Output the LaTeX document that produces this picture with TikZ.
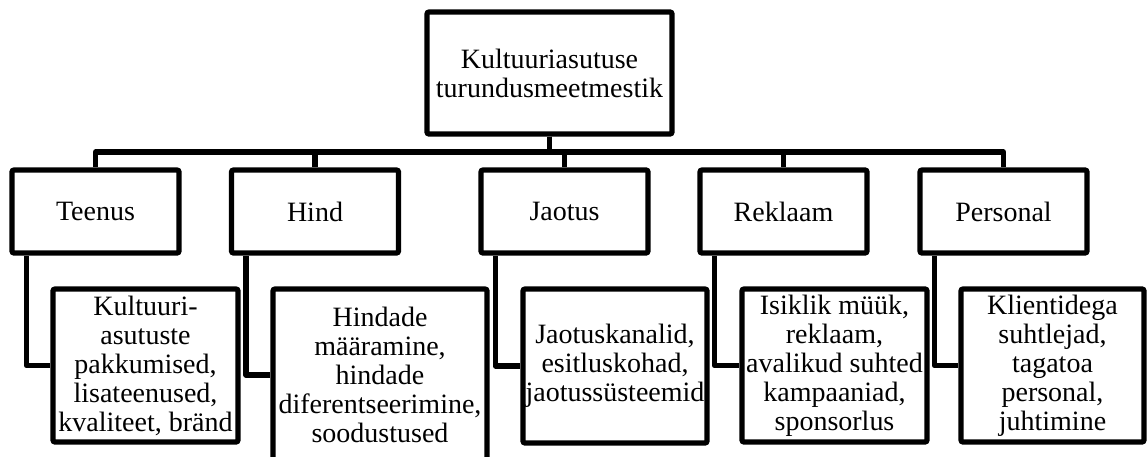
\documentclass[tikz,border=0pt]{standalone}
\usepackage{fontspec}
\setmainfont{Liberation Serif}
\begin{document}
\begin{tikzpicture}[x=0.5pt, y=-0.5pt,
  every node/.style={font=\fontsize{14}{14.5}\selectfont},
  box/.style={draw, line width=2.6pt, rectangle, rounded corners=1pt,
    inner sep=0pt, align=center},
  topbox/.style={box, minimum width=122.5pt, minimum height=61pt},
  catbox/.style={box, minimum width=83.5pt, minimum height=41.5pt},
  link/.style={line width=2.6pt, line join=round}]
\clip (0,0) rectangle (1147,456);
\useasboundingbox (0,0) rectangle (1147,456);

% root
\node[topbox] (top) at (549.5,73) {Kultuuriasutuse\\turundusmeetmestik};

% the five elements of the mix
\node[catbox] (teenus)   at (95.5,211.5)  {Teenus};
\node[catbox] (hind)     at (315,211.5)   {Hind};
\node[catbox] (jaotus)   at (564.5,211.5) {Jaotus};
\node[catbox] (reklaam)  at (783.5,211.5) {Reklaam};
\node[catbox] (personal) at (1003.5,211.5){Personal};

% their contents
\node[box, minimum width=92.5pt, minimum height=76.5pt] (teenusL) at (145.5,365.5)
  {Kultuuri-\\asutuste\\pakkumised,\\lisateenused,\\kvaliteet, bränd};
\node[box, minimum width=107pt, minimum height=86pt] (hindL) at (380,375)
  {Hindade\\määramine,\\hindade\\diferentseerimine,\\soodustused};
\node[box, minimum width=92pt, minimum height=77pt] (jaotusL) at (615,366)
  {Jaotuskanalid,\\esitluskohad,\\jaotussüsteemid};
\node[box, minimum width=92.5pt, minimum height=76.5pt] (reklaamL) at (834.5,365.5)
  {Isiklik müük,\\reklaam,\\avalikud suhted\\kampaaniad,\\sponsorlus};
\node[box, minimum width=91.5pt, minimum height=76.5pt] (personalL) at (1052.5,365.5)
  {Klientidega\\suhtlejad,\\tagatoa\\personal,\\juhtimine};

% bus line under the root
\coordinate (bus) at (0,152);
\foreach \n in {teenus,hind,jaotus,reklaam,personal}
  \draw[link] (top.south) -- (top.south |- bus) -| (\n.north);

% elbows from each element to its contents
\foreach \n in {teenus,hind,jaotus,reklaam,personal}
  \draw[link] ([xshift=8.5pt]\n.south west) |- (\n L.west);
\end{tikzpicture}
\end{document}
